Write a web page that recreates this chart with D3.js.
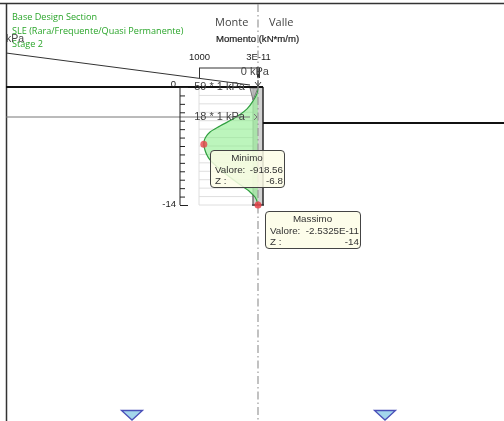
<!DOCTYPE html>
<html>
<head>
<meta charset="utf-8">
<script src="https://cdn.jsdelivr.net/npm/d3@7"></script>
<style>
  html, body { margin: 0; padding: 0; background: #fff; }
  svg { display: block; filter: blur(0.35px); }
  text { font-family: "Liberation Sans", Arial, sans-serif; }
  .head { font-family: "Open Sans", sans-serif; }
</style>
</head>
<body>
<svg width="504" height="421"></svg>
<script>
// sezione
const zValues = [0, -0.5, -1.66, -2.6, -3.8, -4.63, -5.34, -6, -6.4, -6.8, -7.5, -8, -8.66, -9.5, -10.44, -11.5, -12.45, -13.05, -14];
const momentValues = [0, -5, -85, -186, -424, -644, -813, -890, -912, -918.56, -898, -870, -813, -690, -525, -320, -136, -51, 0];
const zTicks = d3.range(0, -15, -1);
const momentTicks = [-1000, 3e-11];
const momentLabels = ["1000", "3E-11"];
const titleLines = ["Base Design Section", "SLE (Rara/Frequente/Quasi Permanente)", "Stage 2"];
const pressureLabels = ["0 kPa", "59 * 1 kPa", "18 * 1 kPa"];
const minLabel = { title: "Minimo", value: "-918.56", z: "-6.8" };
const maxLabel = { title: "Massimo", value: "-2.5325E-11", z: "-14" };

var svg = d3.select("svg");
var x = d3.scaleLinear().domain([-1000, 3e-11]).range([199, 258]);
var y = d3.scaleLinear().domain([0, -14]).range([87, 205]);

// cornice
svg.append("line").attr("x1", 0).attr("x2", 504).attr("y1", 3.5).attr("y2", 3.5).attr("stroke", "#333").attr("stroke-width", 1.5);
svg.append("line").attr("x1", 6.5).attr("x2", 6.5).attr("y1", 3).attr("y2", 421).attr("stroke", "#333").attr("stroke-width", 1.5);

// griglia
var grid = svg.append("g").attr("stroke", "#dedede");
grid.selectAll("line").data(zTicks).enter().append("line")
    .attr("x1", x(-1000)).attr("x2", x(3e-11))
    .attr("y1", d => y(d)).attr("y2", d => y(d));
grid.append("line").attr("x1", x(-1000)).attr("x2", x(-1000)).attr("y1", y(0)).attr("y2", y(-14));

// parete
svg.append("rect").attr("x", 253).attr("y", 87).attr("width", 10).attr("height", 118)
    .attr("fill", "#d2d2d2").attr("stroke", "#999").attr("stroke-width", 0.8);

// diagramma del momento
var points = zValues.map((z, i) => [momentValues[i], z]);
svg.append("path").datum(points)
    .attr("fill", "#90ee90").attr("fill-opacity", 0.6)
    .attr("d", d3.area().curve(d3.curveMonotoneY).y(d => y(d[1])).x0(d => x(d[0])).x1(x(3e-11)));
svg.append("path").datum(points)
    .attr("fill", "none").attr("stroke", "#2f9e3f").attr("stroke-width", 1.2)
    .attr("d", d3.line().curve(d3.curveMonotoneY).x(d => x(d[0])).y(d => y(d[1])));

svg.append("line").attr("x1", 263).attr("x2", 263).attr("y1", 87).attr("y2", 205).attr("stroke", "#333").attr("stroke-width", 1.5);
svg.append("line").attr("x1", 252).attr("x2", 264).attr("y1", 205).attr("y2", 205).attr("stroke", "#333").attr("stroke-width", 1.5);
svg.append("line").attr("x1", 253).attr("x2", 253).attr("y1", 195).attr("y2", 205).attr("stroke", "#555");
svg.append("path").attr("d", "M250,88L258,88L253,100Z").attr("fill", "#aaa").attr("fill-opacity", 0.6).attr("stroke", "#777");

// terreno
svg.append("line").attr("x1", 6).attr("x2", 263).attr("y1", 87).attr("y2", 87).attr("stroke", "#111").attr("stroke-width", 2);
svg.append("line").attr("x1", 263).attr("x2", 504).attr("y1", 123).attr("y2", 123).attr("stroke", "#111").attr("stroke-width", 2);
svg.append("line").attr("x1", 6).attr("x2", 250).attr("y1", 117).attr("y2", 117).attr("stroke", "#777");
svg.append("line").attr("x1", 6).attr("x2", 250).attr("y1", 53).attr("y2", 85).attr("stroke", "#333");

// asse z
var zAxis = svg.append("g").attr("transform", "translate(180,0)")
    .call(d3.axisRight(y).tickValues(zTicks).tickSize(5).tickFormat(""));
zAxis.select(".domain").remove();
zAxis.append("line").attr("y1", y(0)).attr("y2", y(-14)).attr("stroke", "#222");
zAxis.selectAll(".tick line").attr("stroke", "#222")
    .attr("x2", d => (d === 0 || d === -14) ? 8 : 5);
[0, -14].forEach(d => {
    svg.append("text").attr("x", 176).attr("y", y(d) + (d === 0 ? 0 : 2)).attr("text-anchor", "end")
        .attr("font-size", 9.5).attr("fill", "#222").text(d);
});

// asse momento
var mAxis = svg.append("g").attr("transform", "translate(0,68)")
    .call(d3.axisTop(x).tickValues(momentTicks).tickSize(-10).tickPadding(5).tickFormat((d, i) => momentLabels[i]));
mAxis.select(".domain").attr("d", "M199,0H258").attr("stroke", "#333");
mAxis.selectAll(".tick line").attr("stroke", "#333").attr("stroke-width", (d, i) => i ? 3 : 1);
mAxis.selectAll(".tick text").attr("font-size", 9.5).attr("fill", "#222").attr("y", -8);

// linea di mezzeria
svg.append("line").attr("x1", 258).attr("x2", 258).attr("y1", 4).attr("y2", 421)
    .attr("stroke", "#999").attr("stroke-width", 1.2).attr("stroke-dasharray", "8 3 1.5 3");

// frecce delle pressioni
svg.append("path").attr("d", "M255,82L258,86L261,82M258,80V86").attr("fill", "none").attr("stroke", "#444");
svg.append("path").attr("d", "M254,114L257,117L254,120").attr("fill", "none").attr("stroke", "#777");

// testi
svg.selectAll(".title").data(titleLines).enter().append("text")
    .attr("class", "head").attr("x", 12).attr("y", (d, i) => 20 + i * 13.5)
    .attr("font-size", 9.1).attr("fill", "#2aa52a").text(d => d);
svg.append("text").attr("x", 6).attr("y", 42).attr("font-size", 10.5).attr("fill", "#444").text("kPa");
svg.append("text").attr("class", "head").attr("x", 215).attr("y", 26).attr("font-size", 11).attr("fill", "#444").text("Monte");
svg.append("text").attr("class", "head").attr("x", 269).attr("y", 26).attr("font-size", 11).attr("fill", "#444").text("Valle");
svg.append("text").attr("x", 216).attr("y", 42).attr("font-size", 9.6).attr("fill", "#222").attr("stroke", "#222").attr("stroke-width", 0.2).text("Momento (kN*m/m)");

var pressurePos = [[269, 75], [245, 90], [245, 120]];
svg.selectAll(".press").data(pressureLabels).enter().append("text")
    .attr("x", (d, i) => pressurePos[i][0]).attr("y", (d, i) => pressurePos[i][1])
    .attr("text-anchor", "end").attr("font-size", 11).attr("fill", "#444").text(d => d);

// punti estremi
svg.append("circle").attr("cx", x(-918.56)).attr("cy", y(-6.8)).attr("r", 3.5).attr("fill", "#e8434a").attr("fill-opacity", 0.8);
svg.append("circle").attr("cx", x(3e-11)).attr("cy", y(-14)).attr("r", 3.5).attr("fill", "#e8434a").attr("fill-opacity", 0.85);

// riquadri
function drawNote(info, left, top, w, h) {
    var g = svg.append("g").attr("transform", "translate(" + left + "," + top + ")");
    g.append("rect").attr("x", 0.5).attr("y", 0.5).attr("width", w).attr("height", h).attr("rx", 3.5)
        .attr("fill", "#fdfde6").attr("fill-opacity", 0.85).attr("stroke", "#444").attr("stroke-width", 1);
    g.append("text").attr("x", w / 2).attr("y", 11).attr("text-anchor", "middle").attr("font-size", 9.8).attr("fill", "#333").text(info.title);
    g.append("text").attr("x", 5).attr("y", 23).attr("font-size", 9.8).attr("fill", "#333").text("Valore:");
    g.append("text").attr("x", w - 1).attr("y", 23).attr("text-anchor", "end").attr("font-size", 9.8).attr("fill", "#333").text(info.value);
    g.append("text").attr("x", 5).attr("y", 34).attr("font-size", 9.8).attr("fill", "#333").text("Z :");
    g.append("text").attr("x", w - 1).attr("y", 34).attr("text-anchor", "end").attr("font-size", 9.8).attr("fill", "#333").text(info.z);
}
drawNote(minLabel, 210, 150, 74, 37);
drawNote(maxLabel, 265, 211, 95, 37);

// appoggi
[132, 385].forEach(cx => {
    svg.append("path").attr("d", d3.line()([[cx - 10.5, 410.5], [cx + 10.5, 410.5], [cx, 420]]) + "Z")
        .attr("fill", "#a3d6ec").attr("stroke", "#4a50b8").attr("stroke-width", 1.3);
});
</script>
</body>
</html>
